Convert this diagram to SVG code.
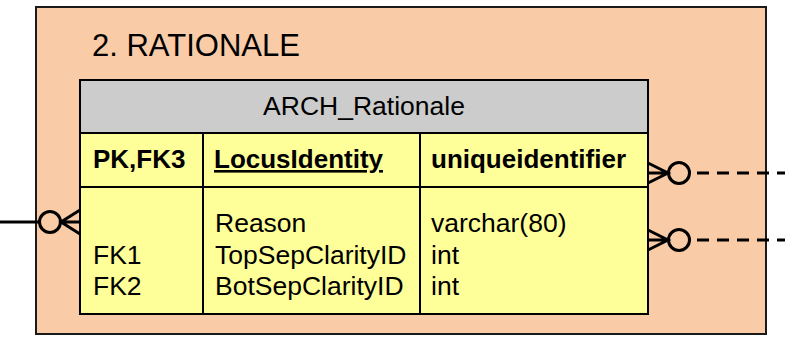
<svg xmlns="http://www.w3.org/2000/svg" width="785" height="338" viewBox="0 0 785 338">
<style>
  text { font-family: "Liberation Sans", Arial, sans-serif; fill: #000; }
  .t { font-size: 26.5px; }
  .b { font-size: 26px; font-weight: bold; }
  .title { font-size: 31px; }
  .cell { stroke: #000; stroke-width: 2; }
  .conn { fill: none; stroke: #000; stroke-width: 3; }
  .dash { stroke-dasharray: 12 8; }
</style>
<rect width="785" height="338" fill="#fff"/>
<g id="group-rationale">
  <rect x="36" y="7" width="730" height="327" fill="#F9CBA7" stroke="#1a1a1a" stroke-width="2"/>
  <text class="title" x="92" y="56">2. RATIONALE</text>
</g>
<g id="table-arch-rationale">
  <rect class="cell" x="80" y="80" width="568" height="53" fill="#CCCCCC"/>
  <rect class="cell" x="80" y="133" width="568" height="54" fill="#FFFF99"/>
  <rect class="cell" x="80" y="187" width="568" height="127" fill="#FFFF99"/>
  <line class="cell" x1="203" y1="133" x2="203" y2="314"/>
  <line class="cell" x1="420" y1="133" x2="420" y2="314"/>
  <text class="t" x="364" y="115" text-anchor="middle">ARCH_Rationale</text>
  <text class="b" x="93" y="168">PK,FK3</text>
  <text class="b" x="214" y="168" text-decoration="underline">LocusIdentity</text>
  <text class="b" x="431" y="168">uniqueidentifier</text>
  <text class="t" x="215" y="232">Reason</text>
  <text class="t" x="431" y="232">varchar(80)</text>
  <text class="t" x="93" y="264">FK1</text>
  <text class="t" x="215" y="264">TopSepClarityID</text>
  <text class="t" x="431" y="264">int</text>
  <text class="t" x="93" y="295">FK2</text>
  <text class="t" x="215" y="295">BotSepClarityID</text>
  <text class="t" x="431" y="295">int</text>
</g>
<g id="connectors">
  <g id="conn-left">
    <line class="conn" x1="0" y1="222" x2="39" y2="222"/>
    <circle class="conn" cx="50" cy="222" r="10.5"/>
    <path class="conn" d="M80 210 L61 222 L80 234 M61 222 L80 222"/>
  </g>
  <g id="conn-right-1">
    <path class="conn" d="M648 163 L668 173 L648 183 M648 173 L668 173"/>
    <circle class="conn" cx="679" cy="173" r="10.5"/>
    <line class="conn dash" x1="697" y1="173" x2="785" y2="173"/>
  </g>
  <g id="conn-right-2">
    <path class="conn" d="M648 230 L668 240 L648 250 M648 240 L668 240"/>
    <circle class="conn" cx="679" cy="240" r="10.5"/>
    <line class="conn dash" x1="697" y1="240" x2="785" y2="240"/>
  </g>
</g>
</svg>
